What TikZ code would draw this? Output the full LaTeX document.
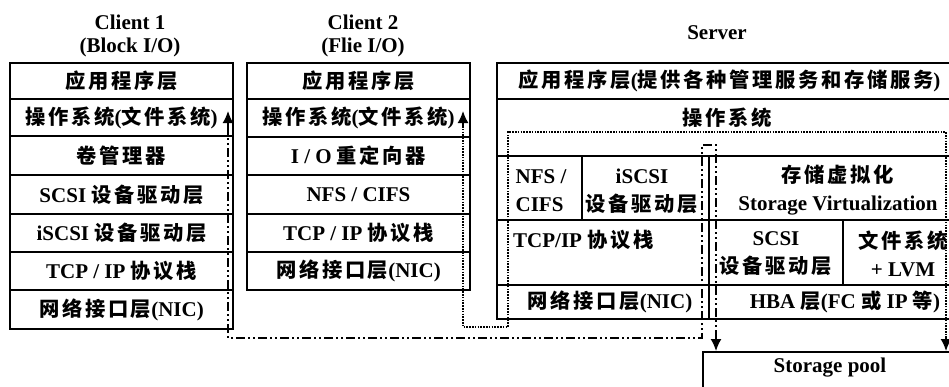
\documentclass[tikz,border=0pt]{standalone}
\usepackage{fontspec}
\setmainfont{Liberation Serif}
\newfontfamily\cjk[LetterSpace=13]{Noto Sans CJK SC}
\usetikzlibrary{arrows.meta}
\newcommand\zh[1]{{\cjk\fontsize{20.3}{28}\selectfont #1}}
\newcommand\cellat[6]{\node[cell, minimum width={(#4-#2)*1pt}, minimum height={(#5-#3)*1pt}] (#1) at ({(#2+#4)/2},{(#3+#5)/2}) {#6};}
\begin{document}
\begin{tikzpicture}[x=1pt,y=-1pt,
  every node/.style={font=\fontsize{21}{28}\selectfont\bfseries},
  cell/.style={draw, line width=1.5pt, inner sep=0pt, outer sep=0pt, align=center},
  lbl/.style={inner sep=0pt, align=center},
  ddot/.style={line width=1.8pt, dash pattern=on 9pt off 3pt on 2pt off 3pt on 2pt off 3pt},
  dotl/.style={line width=1.6pt, dash pattern=on 1.6pt off 1.2pt},
  headtip/.style={solid, line width=1.6pt, -{Latex[length=12pt,width=11pt]}}
]
\fill[white] (0,0) rectangle (949,386);
\useasboundingbox (0,0) rectangle (949,386);

% titles
\node[lbl] (t1a) at (130,22) {Client 1};
\node[lbl] (t1b) at (130,47) {(Block I/O)};
\node[lbl] (t2a) at (363,22) {Client 2};
\node[lbl] (t2b) at (363,47) {(Flie I/O)};
\node[lbl] (t3) at (717,33) {Server};

% client 1
\cellat{c1a}{10}{63}{233}{99}{\zh{应用程序层}}
\cellat{c1b}{10}{99}{233}{136}{\zh{操作系统}(\zh{文件系统})}
\cellat{c1c}{10}{136}{233}{175}{\zh{卷管理器}}
\cellat{c1d}{10}{175}{233}{214}{SCSI \zh{设备驱动层}}
\cellat{c1e}{10}{214}{233}{252}{iSCSI \zh{设备驱动层}}
\cellat{c1f}{10}{252}{233}{290}{TCP / IP \zh{协议栈}}
\cellat{c1g}{10}{290}{233}{329}{\zh{网络接口层}(NIC)}

% client 2
\cellat{c2a}{247}{63}{470}{99}{\zh{应用程序层}}
\cellat{c2b}{247}{99}{470}{137}{\zh{操作系统}(\zh{文件系统})}
\cellat{c2c}{247}{137}{470}{175}{I / O \zh{重定向器}}
\cellat{c2d}{247}{175}{470}{214}{NFS / CIFS}
\cellat{c2e}{247}{214}{470}{252}{TCP / IP \zh{协议栈}}
\cellat{c2f}{247}{252}{470}{290}{\zh{网络接口层}(NIC)}

% server
\cellat{sapp}{497}{63}{962}{99}{\zh{应用程序层}(\zh{提供各种管理服务和存储服务})}
\cellat{sos}{497}{99}{962}{156}{}
\node[lbl] (sost) at (727,118) {\zh{操作系统}};
\cellat{snfs}{497}{156}{582}{220}{}
\node[lbl, align=left] (snfst) at (541,191) {NFS /\\CIFS};
\cellat{sisc}{582}{156}{709}{220}{}
\node[lbl] (sisct) at (642,191) {iSCSI\\\zh{设备驱动层}};
\cellat{stcp}{497}{220}{709}{285}{}
\node[lbl, anchor=west] (stcpt) at (513,240) {TCP/IP \zh{协议栈}};
\cellat{snic}{497}{285}{709}{319}{}
\node[lbl] (snict) at (610,302) {\zh{网络接口层}(NIC)};
\cellat{ssv}{709}{156}{962}{220}{}
\node[lbl] (ssvt) at (838,190) {\zh{存储虚拟化}\\Storage Virtualization};
\cellat{sscsi}{709}{220}{843}{285}{}
\node[lbl] (sscsit) at (776,254) {SCSI\\\zh{设备驱动层}};
\cellat{sfs}{843}{220}{962}{285}{}
\node[lbl] (sfst) at (903,254) {\zh{文件系统}\\+ LVM};
\cellat{shba}{709}{285}{962}{319}{}
\node[lbl] (shbat) at (845,302) {HBA \zh{层}(FC \zh{或} IP \zh{等})};

% storage pool
\cellat{pool}{703}{352}{960}{420}{}
\node[lbl] (poolt) at (830,368) {Storage pool};

% block I/O path (dash-dot)
\coordinate (a0) at (228,111);
\coordinate (a0b) at (228,126);
\coordinate (a1) at (228,338);
\coordinate (a2) at (702,338);
\coordinate (a3) at (702,145);
\coordinate (a4) at (716,145);
\coordinate (a5b) at (716,336);
\coordinate (a5) at (716,351);
\draw[ddot] (a0b) -- (a1) -- (a2) -- (a3) -- (a4) -- (a5b);
\draw[headtip] (a0b) -- (a0);
\draw[headtip] (a5b) -- (a5);

% file I/O path (dotted)
\coordinate (f0) at (463,111);
\coordinate (f0b) at (463,126);
\coordinate (f1) at (463,327);
\coordinate (f2) at (508,327);
\coordinate (f3) at (508,132);
\coordinate (f4) at (946,132);
\coordinate (f5b) at (946,336);
\coordinate (f5) at (946,351);
\draw[dotl] (f0b) -- (f1) -- (f2) -- (f3) -- (f4) -- (f5b);
\draw[headtip] (f0b) -- (f0);
\draw[headtip] (f5b) -- (f5);
\end{tikzpicture}
\end{document}
